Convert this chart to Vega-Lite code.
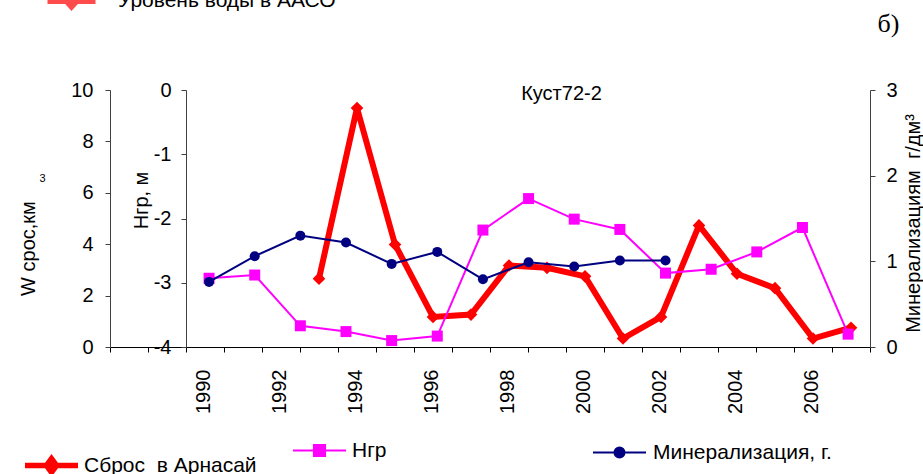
{
  "$schema": "https://vega.github.io/schema/vega-lite/v6.json",
  "width": 760,
  "height": 257,
  "autosize": {"type": "none"},
  "padding": {"left": 110, "top": 90, "right": 53, "bottom": 127},
  "background": "white",
  "config": {
    "view": {"stroke": null},
    "font": "Liberation Sans",
    "axis": {
      "labelFont": "Liberation Sans",
      "labelFontSize": 20,
      "labelColor": "#000000",
      "titleFont": "Liberation Sans",
      "titleFontSize": 20,
      "titleFontWeight": "normal",
      "titleColor": "#000000",
      "domainColor": "#404040",
      "tickColor": "#404040",
      "grid": false
    },
    "legend": {
      "labelFont": "Liberation Sans",
      "labelFontSize": 21,
      "labelColor": "#000000",
      "labelLimit": 0,
      "padding": 0
    }
  },
  "datasets": {
    "sbros": [
      {"year": 1993, "W": 2.66, "series": "Сброс\u00a0 в Арнасай"},
      {"year": 1994, "W": 9.30, "series": "Сброс\u00a0 в Арнасай"},
      {"year": 1995, "W": 3.99, "series": "Сброс\u00a0 в Арнасай"},
      {"year": 1996, "W": 1.17, "series": "Сброс\u00a0 в Арнасай"},
      {"year": 1997, "W": 1.26, "series": "Сброс\u00a0 в Арнасай"},
      {"year": 1998, "W": 3.17, "series": "Сброс\u00a0 в Арнасай"},
      {"year": 1999, "W": 3.08, "series": "Сброс\u00a0 в Арнасай"},
      {"year": 2000, "W": 2.75, "series": "Сброс\u00a0 в Арнасай"},
      {"year": 2001, "W": 0.33, "series": "Сброс\u00a0 в Арнасай"},
      {"year": 2002, "W": 1.17, "series": "Сброс\u00a0 в Арнасай"},
      {"year": 2003, "W": 4.73, "series": "Сброс\u00a0 в Арнасай"},
      {"year": 2004, "W": 2.85, "series": "Сброс\u00a0 в Арнасай"},
      {"year": 2005, "W": 2.29, "series": "Сброс\u00a0 в Арнасай"},
      {"year": 2006, "W": 0.33, "series": "Сброс\u00a0 в Арнасай"},
      {"year": 2007, "W": 0.75, "series": "Сброс\u00a0 в Арнасай"}
    ],
    "ngr": [
      {"n": 1, "H": -2.93, "series": "Нгр"},
      {"n": 2, "H": -2.88, "series": "Нгр"},
      {"n": 3, "H": -3.67, "series": "Нгр"},
      {"n": 4, "H": -3.76, "series": "Нгр"},
      {"n": 5, "H": -3.90, "series": "Нгр"},
      {"n": 6, "H": -3.83, "series": "Нгр"},
      {"n": 7, "H": -2.18, "series": "Нгр"},
      {"n": 8, "H": -1.69, "series": "Нгр"},
      {"n": 9, "H": -2.01, "series": "Нгр"},
      {"n": 10, "H": -2.17, "series": "Нгр"},
      {"n": 11, "H": -2.85, "series": "Нгр"},
      {"n": 12, "H": -2.79, "series": "Нгр"},
      {"n": 13, "H": -2.52, "series": "Нгр"},
      {"n": 14, "H": -2.14, "series": "Нгр"},
      {"n": 15, "H": -3.80, "series": "Нгр"}
    ],
    "mineral": [
      {"n": 1, "M": 0.76, "series": "Минерализация, г."},
      {"n": 2, "M": 1.06, "series": "Минерализация, г."},
      {"n": 3, "M": 1.30, "series": "Минерализация, г."},
      {"n": 4, "M": 1.22, "series": "Минерализация, г."},
      {"n": 5, "M": 0.97, "series": "Минерализация, г."},
      {"n": 6, "M": 1.11, "series": "Минерализация, г."},
      {"n": 7, "M": 0.79, "series": "Минерализация, г."},
      {"n": 8, "M": 0.99, "series": "Минерализация, г."},
      {"n": 9, "M": 0.94, "series": "Минерализация, г."},
      {"n": 10, "M": 1.01, "series": "Минерализация, г."},
      {"n": 11, "M": 1.01, "series": "Минерализация, г."}
    ]
  },
  "layer": [
    {
      "data": {"name": "sbros"},
      "mark": {"type": "line", "strokeWidth": 6, "point": {"shape": "diamond", "size": 160, "filled": true, "opacity": 1}},
      "encoding": {
        "x": {
          "field": "year", "type": "ordinal",
          "scale": {"domain": [1988,1989,1990,1991,1992,1993,1994,1995,1996,1997,1998,1999,2000,2001,2002,2003,2004,2005,2006,2007], "paddingInner": 0, "paddingOuter": 0},
          "axis": {"title": null, "labelAngle": -90, "labelExpr": "datum.value >= 1990 && datum.value % 2 == 0 ? datum.label : ''", "tickBand": "extent", "labelOverlap": false, "tickSize": 5, "labelPadding": 17, "labelOffset": -2, "domainColor": "#000000", "tickColor": "#000000"}
        },
        "y": {
          "field": "W", "type": "quantitative",
          "scale": {"domain": [0, 10], "nice": false},
          "axis": {"orient": "left", "values": [0,2,4,6,8,10], "tickSize": 5, "labelPadding": 12, "title": "W срос,км", "titleX": -82, "titleY": 158, "titleAngle": 270, "titleAlign": "center", "titleBaseline": "middle"}
        },
        "color": {
          "field": "series", "type": "nominal",
          "scale": {"range": ["#ff0000"]},
          "legend": {
            "title": null, "orient": "none", "legendX": -88, "legendY": 346,
            "symbolType": "M-1,0L1,0M0,-0.26L0.19,0L0,0.26L-0.19,0Z",
            "symbolSize": 2809, "symbolStrokeWidth": 5.5, "labelOffset": 3,
            "encode": {"symbols": {"update": {"fill": {"value": "#ff0000"}, "stroke": {"value": "#ff0000"}, "opacity": {"value": 1}}}}
          }
        }
      }
    },
    {
      "data": {"name": "ngr"},
      "mark": {"type": "line", "strokeWidth": 2, "point": {"shape": "square", "size": 121, "filled": true, "opacity": 1}},
      "encoding": {
        "x": {
          "field": "n", "type": "quantitative",
          "scale": {"domain": [-1.17, 15.48], "nice": false, "zero": false},
          "axis": {"orient": "top", "domain": false, "ticks": false, "labels": false, "grid": false, "title": "б)", "titleFont": "Liberation Serif", "titleFontSize": 26, "titleFontWeight": "normal", "titleX": 778, "titleY": -59, "titleAlign": "center", "titleBaseline": "alphabetic", "titleAngle": 0}
        },
        "y": {
          "field": "H", "type": "quantitative",
          "scale": {"domain": [-4, 0], "nice": false},
          "axis": {"orient": "left", "offset": -76, "values": [-4,-3,-2,-1,0], "tickSize": 5, "labelPadding": 10, "labelExpr": "datum.value == 0 ? '0' : '-' + abs(datum.value)", "title": "Нгр, м", "titleX": -45, "titleY": 110, "titleAngle": 270, "titleAlign": "center", "titleBaseline": "middle"}
        },
        "color": {
          "field": "series", "type": "nominal",
          "scale": {"range": ["#ff00ff"]},
          "legend": {
            "title": null, "orient": "none", "legendX": 182, "legendY": 333,
            "symbolType": "M-1,0L1,0M-0.21,-0.21L0.21,-0.21L0.21,0.21L-0.21,0.21Z",
            "symbolSize": 2809, "symbolStrokeWidth": 2, "labelOffset": 5,
            "encode": {"symbols": {"update": {"fill": {"value": "#ff00ff"}, "stroke": {"value": "#ff00ff"}, "opacity": {"value": 1}}}}
          }
        }
      }
    },
    {
      "data": {"name": "mineral"},
      "mark": {"type": "line", "strokeWidth": 2, "point": {"shape": "circle", "size": 100, "filled": true, "opacity": 1}},
      "encoding": {
        "x": {
          "field": "n", "type": "quantitative",
          "scale": {"domain": [-1.17, 15.48], "nice": false, "zero": false},
          "axis": {"orient": "top", "domain": false, "ticks": false, "labels": false, "grid": false, "title": "Куст72-2", "titleFontSize": 20, "titleX": 451, "titleY": 3, "titleAlign": "center", "titleBaseline": "middle", "titleAngle": 0}
        },
        "y": {
          "field": "M", "type": "quantitative",
          "scale": {"domain": [0, 3], "nice": false},
          "axis": {"orient": "right", "values": [0,1,2,3], "tickSize": 5, "labelPadding": 11, "title": "Минерализациям\u00a0 г/дм³", "titleX": 43, "titleY": 133, "titleAngle": 270, "titleAlign": "center", "titleBaseline": "middle"}
        },
        "color": {
          "field": "series", "type": "nominal",
          "scale": {"range": ["#000080"]},
          "legend": {
            "title": null, "orient": "none", "legendX": 482, "legendY": 335,
            "symbolType": "M-1,0L1,0M-0.19,0A0.19,0.19,0,1,1,0.19,0A0.19,0.19,0,1,1,-0.19,0Z",
            "symbolSize": 2809, "symbolStrokeWidth": 2, "labelOffset": 6,
            "encode": {"symbols": {"update": {"fill": {"value": "#000080"}, "stroke": {"value": "#000080"}, "opacity": {"value": 1}}}}
          }
        }
      }
    },
    {
      "data": {"values": []},
      "mark": {"type": "point"},
      "encoding": {
        "y": {
          "field": "v", "type": "quantitative",
          "scale": {"domain": [0, 1]},
          "axis": {"orient": "left", "domain": false, "ticks": false, "labels": false, "grid": false, "title": "3", "titleFontSize": 11, "titleAngle": 0, "titleX": -68, "titleY": 88, "titleAlign": "center", "titleBaseline": "middle"}
        },
        "color": {
          "field": "series", "type": "nominal",
          "scale": {"domain": ["Уровень воды в ААСО"], "range": ["#ff0000"]},
          "legend": {
            "title": null, "orient": "none", "legendX": -66, "legendY": -117,
            "symbolType": "M-1,0L1,0M0,-0.22L0.2,0L0,0.22L-0.2,0Z",
            "symbolSize": 2304, "symbolStrokeWidth": 7, "labelOffset": 19,
            "encode": {"symbols": {"update": {"fill": {"value": "#ff0000"}, "stroke": {"value": "#ff0000"}, "opacity": {"value": 1}}}}
          }
        }
      }
    }
  ],
  "resolve": {
    "scale": {"x": "independent", "y": "independent", "color": "independent"},
    "legend": {"color": "independent"}
  }
}
